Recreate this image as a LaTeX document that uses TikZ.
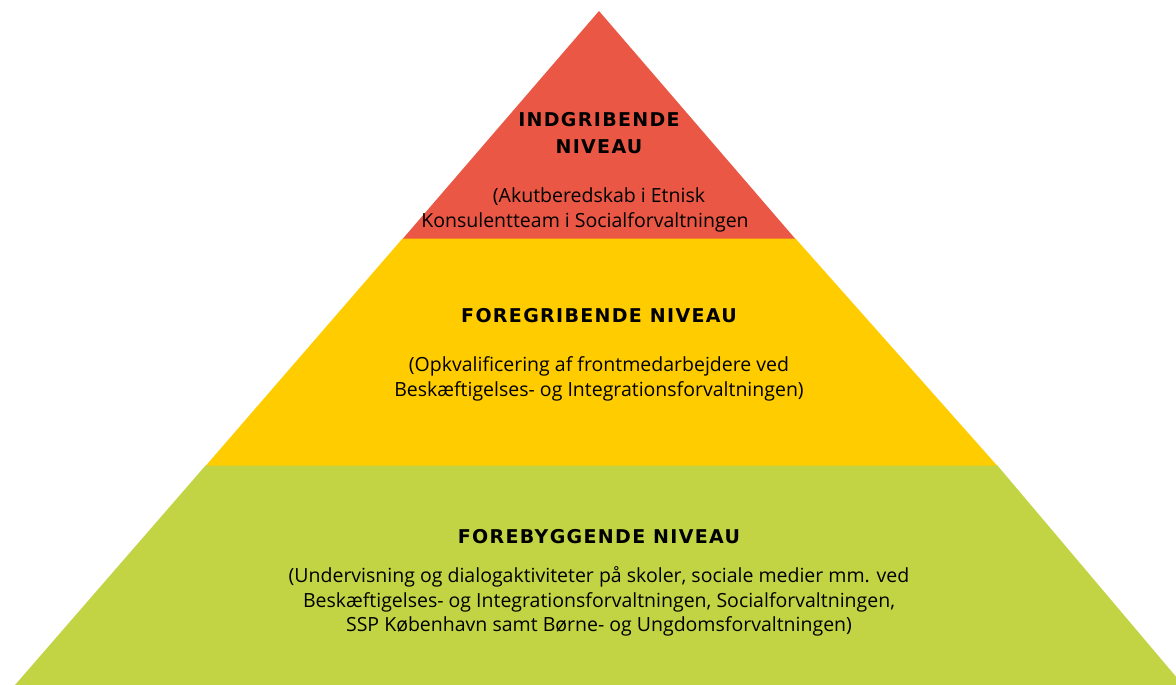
\documentclass[tikz,border=0pt]{standalone}
\usepackage{fontspec}
\setmainfont{Open Sans}
\newfontfamily\titlefont[LetterSpace=7]{DejaVu Sans}
\definecolor{pred}{HTML}{EB5745}
\definecolor{pyel}{HTML}{FFCC00}
\definecolor{pgrn}{HTML}{C2D444}
\begin{document}
\begin{tikzpicture}[x=1pt,y=-1pt,
  title/.style={font=\titlefont\fontsize{19}{27}\selectfont\bfseries, anchor=base, inner sep=0pt, text=black},
  body/.style={font=\fontsize{19.5}{25}\selectfont, anchor=base, inner sep=0pt, text=black}]
\useasboundingbox (0,0) rectangle (1176,685);
\clip (0,0) rectangle (1176,685);
\coordinate (apex) at (599,11);
\fill[pgrn] (206,465) -- (997,465) -- (1183,685) -- (15,685) -- cycle;
\fill[pyel] (403,238) -- (795,238) -- (997,465.5) -- (206,465.5) -- cycle;
\fill[pred] (apex) -- (795,238.5) -- (403,238.5) -- cycle;
\node[title] (t1a) at (599,126) {INDGRIBENDE};
\node[title] (t1b) at (599,153) {NIVEAU};
\node[body] (b1a) at (599,202) {(Akutberedskab i Etnisk};
\node[body] (b1b) at (585,227) {Konsulentteam i Socialforvaltningen};
\node[title] (t2) at (599,322) {FOREGRIBENDE NIVEAU};
\node[body] (b2a) at (599,371) {(Opkvalificering af frontmedarbejdere ved};
\node[body] (b2b) at (599,396) {Beskæftigelses- og Integrationsforvaltningen)};
\node[title] (t3) at (599,543) {FOREBYGGENDE NIVEAU};
\node[body] (b3a) at (599,582) {(Undervisning og dialogaktiviteter på skoler, sociale medier mm. ved};
\node[body] (b3b) at (599,607) {Beskæftigelses- og Integrationsforvaltningen, Socialforvaltningen,};
\node[body] (b3c) at (599,631) {SSP København samt Børne- og Ungdomsforvaltningen)};
\end{tikzpicture}
\end{document}
